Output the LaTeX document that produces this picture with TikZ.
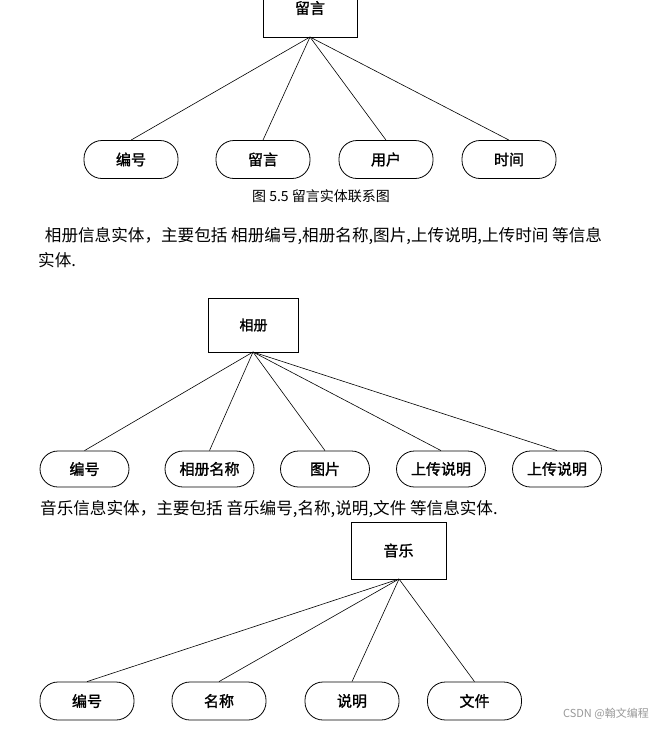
\documentclass[tikz,border=0pt]{standalone}
\usepackage{fontspec}
\newfontfamily\cjk{Noto Sans CJK SC}
\newfontfamily\cjkb{Noto Sans CJK SC}[FakeBold=1.5]
\begin{document}
\begin{tikzpicture}[x=1pt,y=-1pt,
  entity/.style={draw, line width=0.8pt, inner sep=0pt, font=\cjkb\fontsize{15}{15}\selectfont},
  attr/.style={draw, line width=0.8pt, rounded corners=18pt, minimum width=94pt, minimum height=38pt, inner sep=0pt, font=\cjkb\fontsize{15}{15}\selectfont},
  attrs/.style={attr, minimum width=89pt, minimum height=36pt},
  link/.style={line width=0.6pt},
  para/.style={anchor=west, inner sep=0pt, font=\cjk\fontsize{16.6}{16.6}\selectfont},
]
\useasboundingbox (0,0) rectangle (655,729);
\clip (0,0) rectangle (655,729);
\fill[white] (0,0) rectangle (655,729);

% ---- 留言 ----
\node[entity, minimum width=94pt, minimum height=58pt] (ly) at (310,8) {留言};
\coordinate (lyo) at (310,37);
\node[attr] (a1) at (131,159.5) {编号};
\node[attr] (a2) at (263,159.5) {留言};
\node[attr] (a3) at (386,159.5) {用户};
\node[attr] (a4) at (509,159.5) {时间};
\foreach \n in {a1,a2,a3,a4} \draw[link] (lyo) -- (\n.north);
\node[inner sep=0pt, font=\cjk\fontsize{14}{14}\selectfont] (cap) at (321,196) {图 5.5 留言实体联系图};

\node[para] (p1) at (41,236) {\ 相册信息实体，主要包括 相册编号,相册名称,图片,上传说明,上传时间 等信息};
\node[para] (p1b) at (38,260) {实体.};

% ---- 相册 ----
\node[entity, minimum width=90pt, minimum height=54pt, font=\cjkb\fontsize{14}{14}\selectfont] (xc) at (253.5,325) {相册};
\coordinate (xco) at (253,352);
\node[attrs] (b1) at (84.5,469) {编号};
\node[attrs] (b2) at (209.5,469) {相册名称};
\node[attrs] (b3) at (325,469) {图片};
\node[attrs] (b4) at (441,469) {上传说明};
\node[attrs] (b5) at (557,469) {上传说明};
\foreach \n in {b1,b2,b3,b4,b5} \draw[link] (xco) -- (\n.north);

\node[para] (p2) at (40,509) {音乐信息实体，主要包括 音乐编号,名称,说明,文件 等信息实体.};

% ---- 音乐 ----
\node[entity, minimum width=95pt, minimum height=57pt] (yy) at (398.5,550.5) {音乐};
\coordinate (yyo) at (399,579);
\node[attr] (c1) at (87,701) {编号};
\node[attr] (c2) at (219,701) {名称};
\node[attr] (c3) at (352,701) {说明};
\node[attr] (c4) at (474.5,701) {文件};
\foreach \n in {c1,c2,c3,c4} \draw[link] (yyo) -- (\n.north);

\node[anchor=east, inner sep=0pt, text=black!40, font=\cjk\fontsize{11}{11}\selectfont] (wm) at (649,714) {CSDN @翰文编程};
\end{tikzpicture}
\end{document}
